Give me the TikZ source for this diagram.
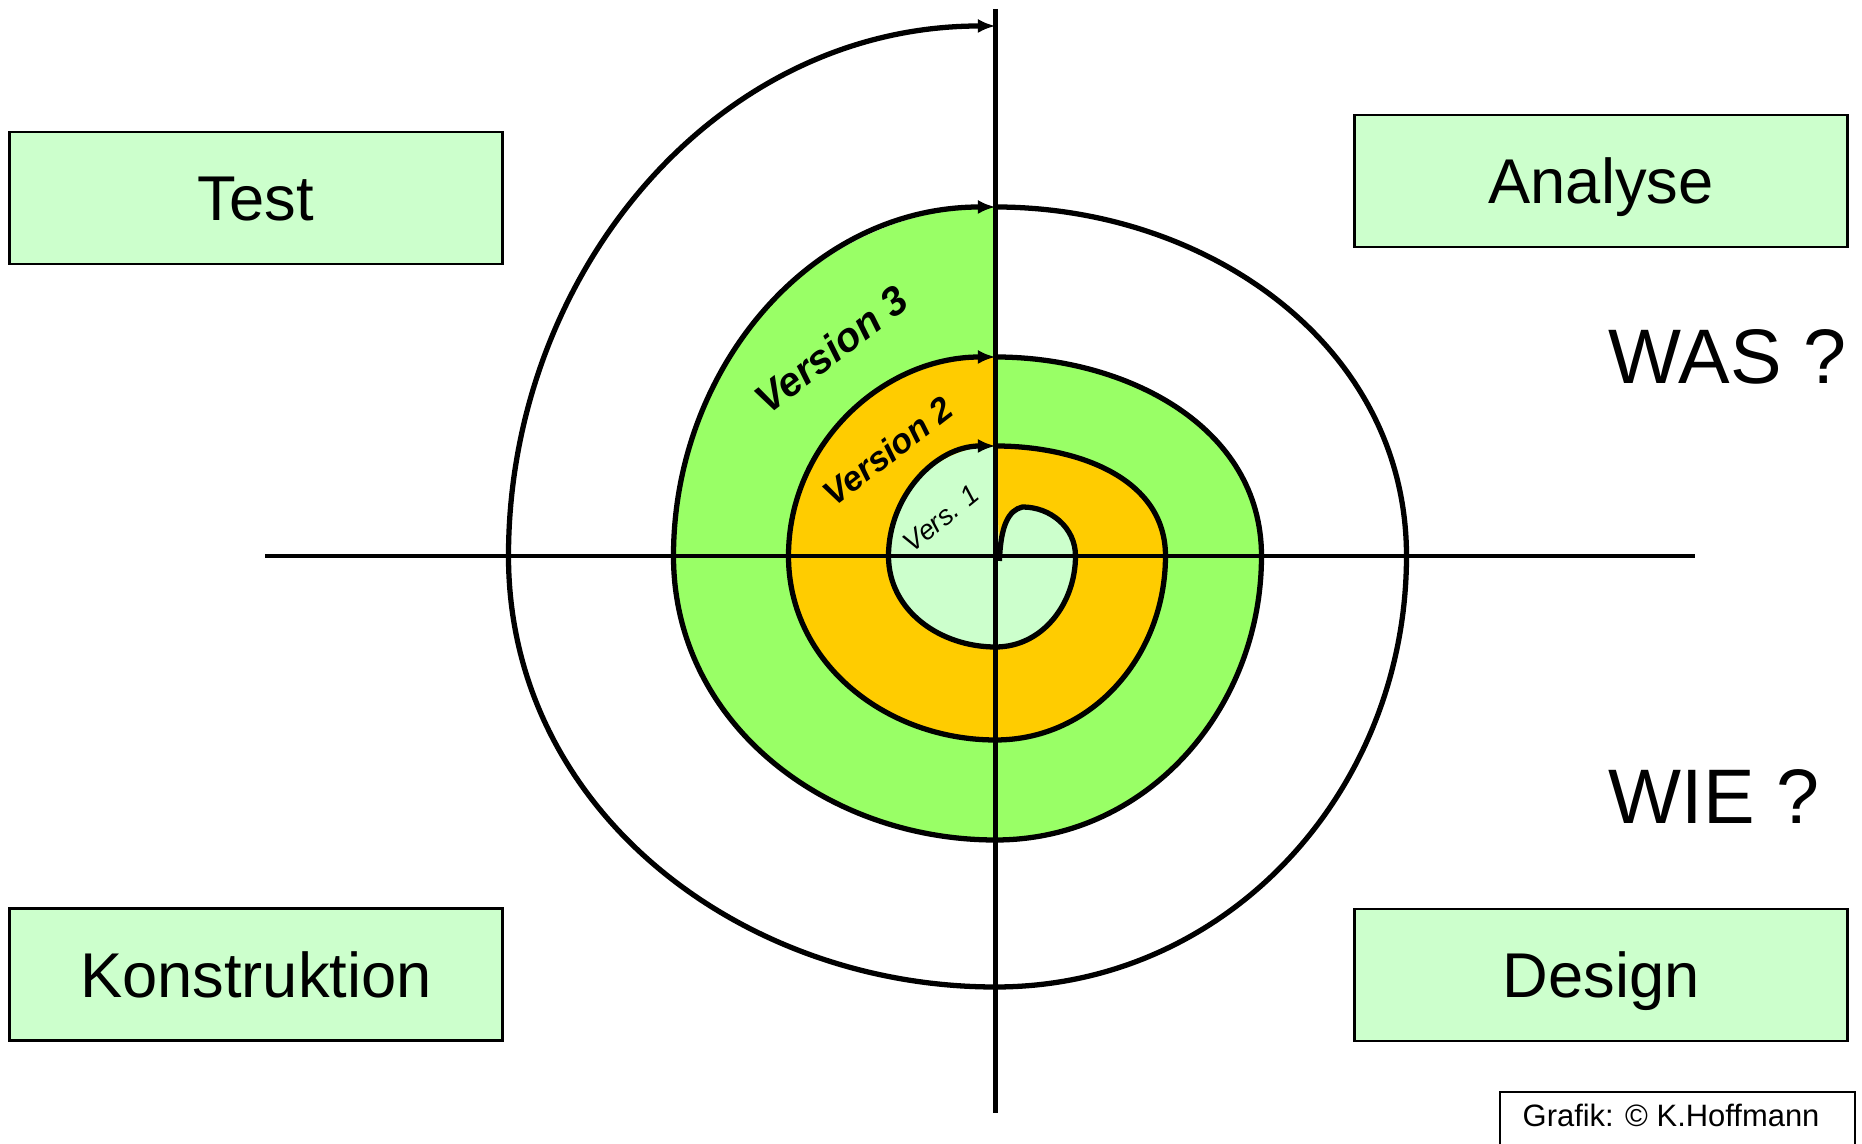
\documentclass[tikz,border=0pt]{standalone}
\usepackage{fontspec}
\setmainfont{Liberation Sans}
\usepackage{xcolor}
\usepackage{tikz}
\usetikzlibrary{arrows.meta,calc,positioning}
\definecolor{palegreen}{rgb}{0.8,1,0.8}
\definecolor{brightgreen}{rgb}{0.6,1,0.4}
\definecolor{goldyellow}{rgb}{1,0.8,0}

\begin{document}
\begin{tikzpicture}[looseness=1.0,
        phase/.style={draw, line width=0.8pt, fill=palegreen, inner sep=0pt,
            minimum width=4.93cm, minimum height=1.32cm,
            text height=12.9pt, text depth=0pt, font=\fontsize{18}{20}\selectfont},
        axis/.style={line width=1.4pt},
        spiral/.style={line width=1.5pt, -{Latex[length=5pt,width=4pt]}},
        question/.style={anchor=base west, inner sep=0pt, font=\fontsize{22}{24}\selectfont}]
        \useasboundingbox (-9.955,-5.88) rectangle (8.665,5.56);
        % Define points
        \coordinate (S) at (0.04,-0.05);
        \coordinate (K) at (0.27,0.49);
        \coordinate (R1) at (0.80,0);  \coordinate (B1) at (0,-0.91);
        \coordinate (L1) at (-1.07,0); \coordinate (T1) at (0,1.10);
        \coordinate (R2) at (1.70,0);  \coordinate (B2) at (0,-1.84);
        \coordinate (L2) at (-2.07,0); \coordinate (T2) at (0,1.99);
        \coordinate (R3) at (2.66,0);  \coordinate (B3) at (0,-2.84);
        \coordinate (L3) at (-3.22,0); \coordinate (T3) at (0,3.49);
        \coordinate (R4) at (4.11,0);  \coordinate (B4) at (0,-4.31);
        \coordinate (L4) at (-4.87,0); \coordinate (T4) at (0,5.30);
        % Fill the versions
        \fill[brightgreen] (T2) to[out=0,in=90] (R3) to[out=-90,in=0] (B3)
            to[out=180,in=-90] (L3) to[out=90,in=180] (T3) -- cycle;
        \fill[goldyellow] (T1) to[out=0,in=90] (R2) to[out=-90,in=0] (B2)
            to[out=180,in=-90] (L2) to[out=90,in=180] (T2) -- cycle;
        \fill[palegreen] (S) .. controls (0.05,0.30) and (0.13,0.46) .. (K)
            to[out=0,in=90] (R1) to[out=-90,in=0] (B1)
            to[out=180,in=-90] (L1) to[out=90,in=180] (T1) -- cycle;
        %Axis
        \draw[axis] (-7.30,0) -- (6.99,0);
        \draw[axis] (0,5.47) -- (0,-5.57);
        %Draw spiral
        \draw[spiral] (S) .. controls (0.05,0.30) and (0.13,0.46) .. (K)
            to[out=0,in=90] (R1) to[out=-90,in=0] (B1)
            to[out=180,in=-90] (L1) to[out=90,in=180] (T1);
        \draw[spiral] (T1) to[out=0,in=90] (R2) to[out=-90,in=0] (B2)
            to[out=180,in=-90] (L2) to[out=90,in=180] (T2);
        \draw[spiral] (T2) to[out=0,in=90] (R3) to[out=-90,in=0] (B3)
            to[out=180,in=-90] (L3) to[out=90,in=180] (T3);
        \draw[spiral] (T3) to[out=0,in=90] (R4) to[out=-90,in=0] (B4)
            to[out=180,in=-90] (L4) to[out=90,in=180] (T4);
        % Version labels
        \node[rotate=37.5, anchor=base, font=\bfseries\itshape\fontsize{11.5}{13}\selectfont]
            (vthree) at (-1.555,1.95) {Version 3};
        \node[rotate=37.5, anchor=base, font=\bfseries\itshape\fontsize{9.8}{11}\selectfont]
            (vtwo) at (-1.005,0.95) {Version 2};
        \node[rotate=39, anchor=base, font=\itshape\fontsize{7.8}{9}\selectfont]
            (vone) at (-0.485,0.30) {Vers. 1};
        % Phases
        \node[phase] (test) at (-7.395,3.58) {Test};
        \node[phase] (analyse) at (6.055,3.75) {Analyse};
        \node[phase] (konstruktion) at (-7.395,-4.185) {Konstruktion};
        \node[phase] (design) at (6.055,-4.19) {Design};
        \node[question] (was) at (6.125,1.72) {WAS ?};
        \node[question] (wie) at (6.125,-2.68) {WIE ?};
        % Credit
        \draw[line width=0.6pt] (5.045,-6.2) rectangle (8.595,-5.357);
        \node[anchor=base west, inner sep=0pt, font=\fontsize{8.8}{10}\selectfont]
            (credit) at (5.265,-5.71) {Grafik: © K.Hoffmann};
\end{tikzpicture}
\end{document}
